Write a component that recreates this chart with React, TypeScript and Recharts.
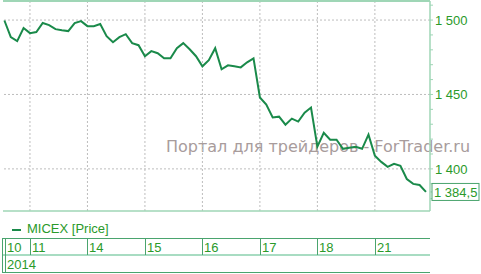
import { LineChart, Line, XAxis, YAxis, ReferenceLine } from 'recharts'

// hourly MICEX prices, 10-21 Jan 2014
const prices = [
  1499.7, 1488.5, 1485.8, 1494.6,
  1491.2, 1491.9, 1498.0, 1496.6, 1493.9, 1493.2, 1492.6, 1498.0, 1499.3,
  1495.9, 1495.9, 1497.3, 1489.2, 1485.1, 1488.5, 1490.5, 1484.5, 1483.1,
  1475.7, 1479.1, 1477.7, 1474.3, 1474.3, 1481.1, 1484.5, 1480.4, 1475.7,
  1468.9, 1473.0, 1481.1, 1466.9, 1469.6, 1468.9, 1468.2, 1471.6, 1474.3,
  1448.0, 1443.2, 1434.5, 1435.1, 1429.7, 1433.8, 1431.8, 1437.8, 1441.2,
  1414.9, 1424.3, 1419.6, 1419.6, 1413.5, 1414.2, 1414.9, 1413.5, 1423.0,
  1408.8, 1404.7, 1401.4, 1403.4, 1402.0, 1393.2, 1389.9, 1389.2, 1384.5,
]
const dayStarts = [0, 4, 13, 22, 31, 40, 49, 58]
const dayLabels = ['10', '11', '14', '15', '16', '17', '18', '21']
const yearLabel = '2014'
const yTicks = [1380, 1390, 1400, 1410, 1420, 1430, 1440, 1450, 1460, 1470, 1480, 1490, 1500, 1510]
const yMajor = [1400, 1450, 1500]
const lastPrice = prices[prices.length - 1]

const data = prices.map((p, i) => ({ i, p }))

const GREEN = '#2a9a2a'
const FRAME = '#9fd6b6'
const TABLE = '#4aa46e'
const FONT = '"Liberation Sans", Arial, sans-serif'

const fmt = (v: number) => {
  const s = v.toFixed(v % 1 === 0 ? 0 : 1).replace('.', ',')
  return s.slice(0, 1) + ' ' + s.slice(1)
}

function YTick(props: any) {
  const { x, y, payload } = props
  const v = payload.value
  if (v === lastPrice) {
    return (
      <g>
        <rect x={x - 3} y={y - 8.5} width={47} height={17} fill="#fff" stroke={TABLE} strokeWidth={1} />
        <text x={x - 1} y={y + 5} fill={GREEN} fontSize={13} fontFamily={FONT}>{fmt(v)}</text>
      </g>
    )
  }
  if (!yMajor.includes(v)) return <g />
  return (
    <text x={x} y={y + 5} fill={GREEN} fontSize={13} fontFamily={FONT}>{fmt(v)}</text>
  )
}

function XTick(props: any) {
  const { x, payload, index } = props
  const label = dayLabels[index]
  if (index === 0) {
    return (
      <g>
        <line x1={2} x2={430} y1={238.5} y2={238.5} stroke={TABLE} />
        <line x1={2} x2={430} y1={255} y2={255} stroke="#a8dcc2" strokeWidth={2} />
        <line x1={2} x2={430} y1={272.5} y2={272.5} stroke={TABLE} />
        <line x1={2.5} x2={2.5} y1={238} y2={273} stroke={TABLE} />
        <line x1={5.5} x2={5.5} y1={238} y2={273} stroke={TABLE} />
        <text x={7} y={252} fill={GREEN} fontSize={13} fontFamily={FONT}>{label}</text>
        <text x={7} y={269} fill={GREEN} fontSize={13} fontFamily={FONT}>{yearLabel}</text>
      </g>
    )
  }
  const xr = Math.round(x) + 0.5
  return (
    <g>
      <line x1={xr} x2={xr} y1={238} y2={255} stroke={TABLE} />
      <text x={xr + 1.5} y={252} fill={GREEN} fontSize={13} fontFamily={FONT}>{label}</text>
    </g>
  )
}

export default function App() {
  return (
    <div style={{ position: 'absolute', left: 0, top: 0, width: 481, height: 274, background: '#fff' }}>
      <div
        style={{
          position: 'absolute', left: 166, top: 139, fontSize: 16, lineHeight: '16px',
          fontFamily: '"DejaVu Sans", Verdana, sans-serif', color: '#a89c9c', whiteSpace: 'nowrap',
        }}
      >
        Портал для трейдеров - ForTrader.ru
      </div>
      <div
        style={{
          position: 'absolute', left: 12, top: 221, fontSize: 13, lineHeight: '16px',
          fontFamily: FONT, color: GREEN, whiteSpace: 'nowrap',
        }}
      >
        <span style={{ display: 'inline-block', width: 9, height: 2, background: '#1a8a4a', verticalAlign: 'middle', marginRight: 6 }} />
        MICEX [Price]
      </div>
      <div style={{ position: 'absolute', left: 0, top: 0 }}>
        <LineChart width={481} height={274} data={data} margin={{ top: 0, right: 0, bottom: 0, left: 3 }}>
          <XAxis
            dataKey="i"
            type="number"
            domain={[-0.22, 66.63]}
            ticks={dayStarts}
            tick={<XTick />}
            interval={0}
            height={63}
            axisLine={{ stroke: FRAME, strokeWidth: 1.5 }}
            tickLine={false}
            allowDataOverflow
          />
          <XAxis
            xAxisId="top"
            orientation="top"
            dataKey="i"
            type="number"
            domain={[-0.22, 66.63]}
            height={1}
            tick={false}
            tickLine={false}
            axisLine={{ stroke: FRAME, strokeWidth: 2 }}
          />
          <YAxis
            orientation="right"
            domain={[1371.7, 1512.8]}
            ticks={[...yTicks, lastPrice]}
            interval={0}
            width={51}
            tickSize={3}
            tickMargin={2}
            tick={<YTick />}
            tickLine={{ stroke: FRAME }}
            axisLine={{ stroke: FRAME, strokeWidth: 1.5 }}
            allowDataOverflow
          />
          <YAxis
            yAxisId="left"
            orientation="left"
            width={0}
            tick={false}
            tickLine={false}
            axisLine={{ stroke: FRAME, strokeWidth: 1.5 }}
          />
          {yMajor.map((v) => (
            <ReferenceLine key={'h' + v} y={v} stroke="#bdbdbd" strokeDasharray="2 2" />
          ))}
          {dayStarts.slice(1).map((d) => (
            <ReferenceLine key={'v' + d} x={d} stroke="#bdbdbd" strokeDasharray="2 2" />
          ))}
          <Line
            dataKey="p"
            stroke="#1a8a4a"
            strokeWidth={2}
            dot={false}
            isAnimationActive={false}
          />
        </LineChart>
      </div>
    </div>
  )
}
